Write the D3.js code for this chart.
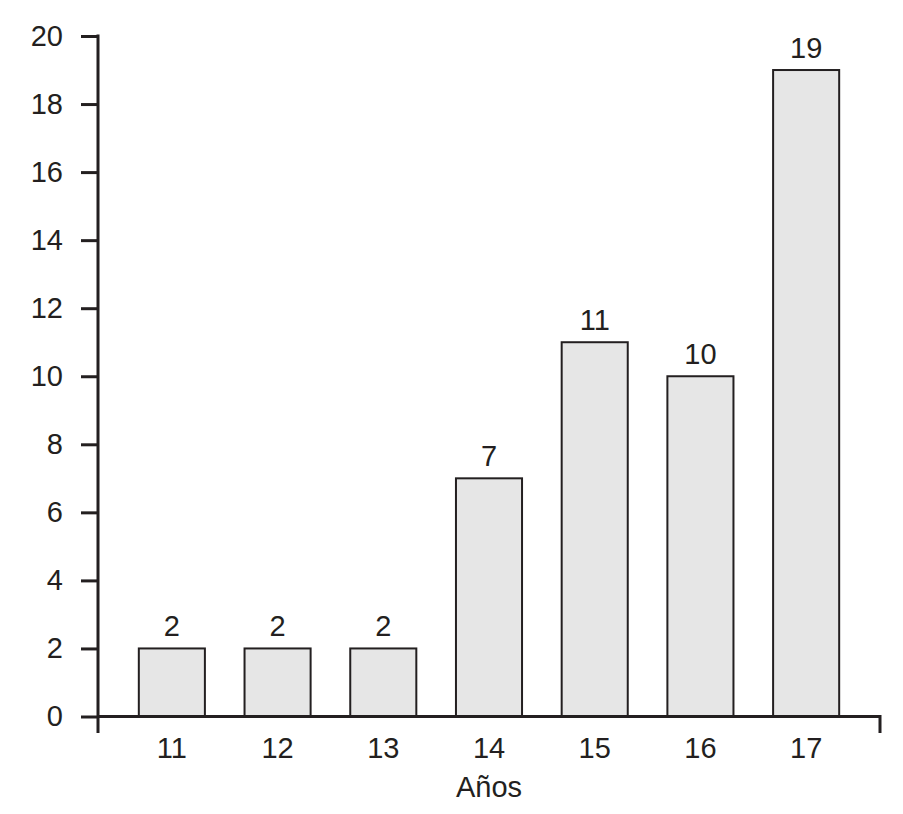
<!DOCTYPE html>
<html><head><meta charset="utf-8">
<script src="https://cdn.jsdelivr.net/npm/d3@7"></script>
<style>body{margin:0;background:#fff}svg{display:block}</style>
</head><body><svg id="c" width="903" height="814"></svg>
<script>
const categories = ["11","12","13","14","15","16","17"];
const values = [2,2,2,7,11,10,19];
const yTicks = [0,2,4,6,8,10,12,14,16,18,20];
const xTitle = "Años";

const svg = d3.select("#c");
const font = "'Liberation Sans', Arial, Helvetica, sans-serif";
const fs = 29;
const x0 = 98, x1 = 880, yTop = 36, yBot = 716.5;
const x = d3.scaleBand().domain(categories).range([119, 859]).paddingInner(0.375).paddingOuter(0.1875);
const y = d3.scaleLinear().domain([0,20]).range([yBot, yTop]);

// bars
svg.append("g").selectAll("rect").data(values).join("rect")
  .attr("x", (d,i)=>x(categories[i]))
  .attr("y", d=>y(d))
  .attr("width", x.bandwidth())
  .attr("height", d=>yBot - y(d))
  .attr("fill", "#e6e6e6")
  .attr("stroke", "#231f20")
  .attr("stroke-width", 2);

// value labels
svg.append("g").selectAll("text").data(values).join("text")
  .attr("x", (d,i)=>x(categories[i]) + x.bandwidth()/2)
  .attr("y", d=>y(d) - 12)
  .attr("text-anchor", "middle")
  .attr("font-family", font).attr("font-size", fs).attr("fill", "#231f20")
  .text(d=>d);

// y axis
const ya = svg.append("g").attr("transform", `translate(${x0},0)`)
  .call(d3.axisLeft(y).tickValues(yTicks).tickSize(17).tickPadding(18).tickFormat(d3.format("d")));
ya.select(".domain").remove();
ya.selectAll(".tick line").attr("stroke", "#231f20").attr("stroke-width", 3);
ya.selectAll(".tick text").attr("font-family", font).attr("font-size", fs).attr("fill", "#231f20");

// axis lines
svg.append("path")
  .attr("d", `M${x0},${yTop-1.5}V733M${x0-1.5},${yBot}H${x1}V733`)
  .attr("fill", "none").attr("stroke", "#231f20").attr("stroke-width", 3);

// x labels
const xa = svg.append("g").attr("transform", `translate(0,${yBot})`)
  .call(d3.axisBottom(x).tickSize(0));
xa.select(".domain").remove();
xa.selectAll(".tick text").attr("y", 758 - yBot).attr("dy", 0)
  .attr("font-family", font).attr("font-size", fs).attr("fill", "#231f20");

svg.append("text").attr("x", 489).attr("y", 797)
  .attr("text-anchor", "middle").attr("font-family", font).attr("font-size", fs).attr("fill", "#231f20")
  .text(xTitle);
</script></body></html>
